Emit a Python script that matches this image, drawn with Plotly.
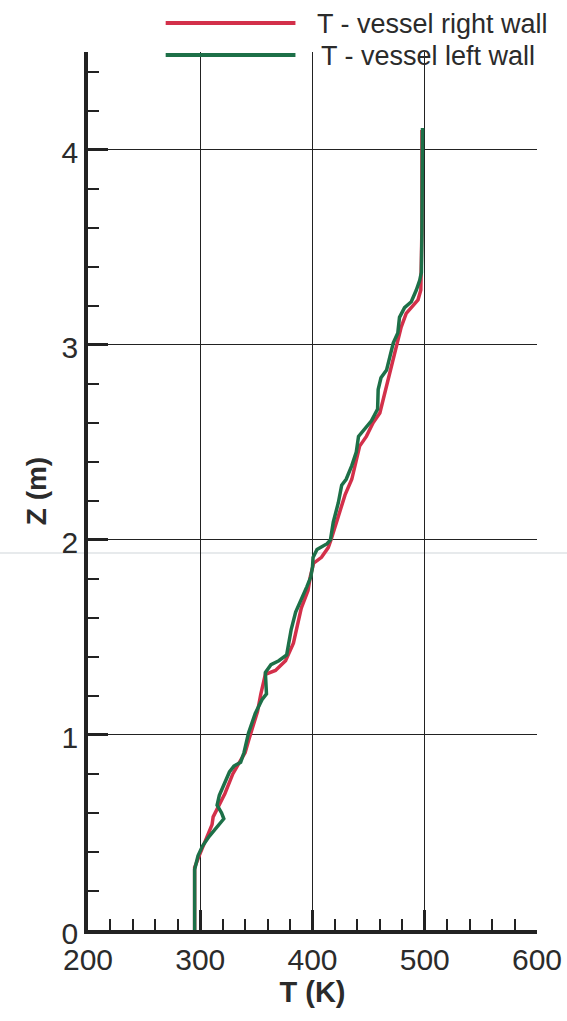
import plotly.graph_objects as go

# ---- data ----
z_left = [0, 0.31, 0.38, 0.43, 0.48, 0.54, 0.57, 0.60, 0.64, 0.69, 0.77, 0.81, 0.84, 0.86, 0.91,
          0.97, 1.01, 1.11, 1.18, 1.21, 1.32, 1.36, 1.38, 1.41, 1.47, 1.54, 1.63, 1.69, 1.76,
          1.81, 1.86, 1.91, 1.95, 1.98,
          2.00, 2.09, 2.19, 2.28, 2.31, 2.38, 2.45, 2.53, 2.56, 2.61, 2.67, 2.77, 2.83, 2.87,
          2.94, 3.01, 3.06, 3.14, 3.19, 3.22, 3.28, 3.33, 3.37, 3.57, 4.11]
T_left = [295, 295, 298, 302, 308, 317, 321, 319, 315, 317, 323, 326, 330, 336, 339,
          341, 343, 349, 355, 359, 358, 363, 370, 377, 379, 381, 385, 390, 395,
          398.5, 400, 400.5, 404, 413,
          416, 418.5, 423, 426, 430, 435, 439, 441, 445, 452.5, 458, 458.5, 461, 466,
          469, 472, 476, 477.5, 482, 488, 492.5, 495.5, 497, 497.5, 498]

z_right = [0, 0.32, 0.38, 0.45, 0.50, 0.54, 0.58, 0.63, 0.70, 0.80, 0.84, 0.91, 0.97, 1.03,
           1.12, 1.21, 1.31, 1.33, 1.38, 1.47, 1.55, 1.65, 1.74, 1.81, 1.88, 1.91, 1.96,
           2.00, 2.12, 2.23, 2.31, 2.48, 2.53, 2.60, 2.65, 2.79, 2.87, 2.99, 3.09, 3.16,
           3.23, 3.28, 3.60, 4.10]
T_right = [295, 295, 299, 304, 308, 310.5, 311.5, 316, 322, 329, 333, 340, 343, 346,
           351, 354, 358, 367, 376, 383, 386, 390, 396, 398, 401, 408, 414,
           416.5, 423, 429, 435, 442, 448, 454, 460, 466, 470, 474.5, 479, 483.5,
           494, 496.5, 497.5, 497.5]

legend_names = ["T - vessel right wall", "T - vessel left wall"]
x_ticks = [200, 300, 400, 500, 600]
y_ticks = [0, 1, 2, 3, 4]

RED = "#d3304a"
GREEN = "#1d7048"
FONT = "Liberation Sans, Arial, sans-serif"
INK = "#2b2b2b"

fig = go.Figure()
fig.add_trace(go.Scatter(x=T_right, y=z_right, mode="lines", name=legend_names[0],
                         line=dict(color=RED, width=3.5), showlegend=False))
fig.add_trace(go.Scatter(x=T_left, y=z_left, mode="lines", name=legend_names[1],
                         line=dict(color=GREEN, width=3.5), showlegend=False))

# manual legend with long line samples (as in the reference)
leg_y = [1.033, 0.9966]
leg_col = [RED, GREEN]
leg_tx = [0.505, 0.515]
for i in range(2):
    fig.add_shape(type="line", xref="paper", yref="paper", x0=0.173, x1=0.462,
                  y0=leg_y[i], y1=leg_y[i], line=dict(color=leg_col[i], width=4))
    fig.add_annotation(xref="paper", yref="paper", x=leg_tx[i], y=leg_y[i] - 0.001,
                       text=legend_names[i], showarrow=False, xanchor="left",
                       yanchor="middle", font=dict(family=FONT, size=27, color=INK))

# faint scan line
fig.add_shape(type="line", xref="paper", yref="paper", x0=-0.2, x1=1.1,
              y0=(930 - 553) / 878, y1=(930 - 553) / 878,
              line=dict(color="#dfe3e6", width=1.5), layer="below")

fig.update_layout(
    width=567, height=1021,
    margin=dict(l=88, r=30, t=52, b=91, autoexpand=False),
    paper_bgcolor="white", plot_bgcolor="white",
    font=dict(family=FONT, color=INK),
    xaxis=dict(range=[200, 600], tickvals=x_ticks, ticks="inside", ticklen=20, tickwidth=3,
               tickcolor="#222", showline=True, linewidth=3.5, linecolor="#222",
               showgrid=True, gridcolor="#222", gridwidth=1.3, zeroline=False,
               automargin=False,
               tickfont=dict(size=30, family=FONT, color=INK),
               minor=dict(dtick=20, ticks="inside", ticklen=11, tickwidth=1.5,
                          tickcolor="#222", showgrid=False),
               title=dict(text="<b>T (K)</b>", font=dict(size=29, family=FONT, color=INK),
                          standoff=4)),
    yaxis=dict(range=[0, 4.5], tickvals=y_ticks, ticks="inside", ticklen=20, tickwidth=3,
               tickcolor="#222", showline=True, linewidth=3.5, linecolor="#222",
               showgrid=True, gridcolor="#222", gridwidth=1.3, zeroline=False,
               automargin=False, ticklabelshift=3,
               tickfont=dict(size=30, family=FONT, color=INK),
               minor=dict(dtick=0.2, ticks="inside", ticklen=11, tickwidth=1.5,
                          tickcolor="#222", showgrid=False),
               title=dict(text="<b>Z (m)</b>", font=dict(size=28, family=FONT, color=INK),
                          standoff=8)),
)

fig.write_html("out.html", config={"displayModeBar": False},
               post_script="document.body.style.margin='0';")
